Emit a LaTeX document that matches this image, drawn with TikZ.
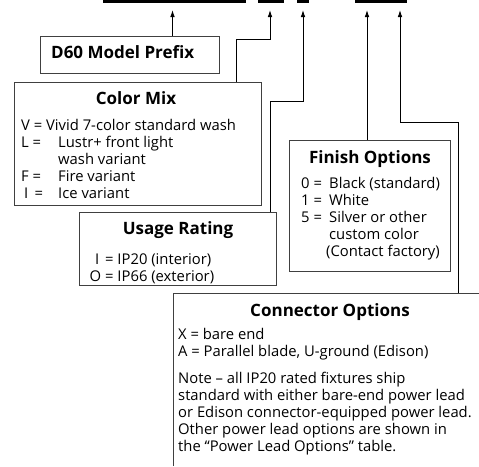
\documentclass[tikz,border=0pt]{standalone}
\usepackage{fontspec}
\setmainfont{Open Sans}
\usetikzlibrary{arrows.meta}
\begin{document}
\begin{tikzpicture}[x=1pt,y=-1pt,
  box/.style={draw=black!75, line width=0.9pt, inner sep=0},
  bar/.style={fill=black, inner sep=0, minimum height=2.6pt},
  conn/.style={draw=black, line width=0.9pt},
  arr/.style={conn, -{Latex[length=7pt,width=4.6pt]}},
  ttl/.style={font=\bfseries\fontsize{17}{20}\selectfont, anchor=base, inner sep=0},
  txt/.style={font=\fontsize{14.8}{17}\selectfont, anchor=base west, inner sep=0},
]
\useasboundingbox (0,0) rectangle (479,466);
% top bars
\node[bar, minimum width=143pt] (bar1) at (174.5,1.3) {};
\node[bar, minimum width=26pt] (bar2) at (271,1.3) {};
\node[bar, minimum width=12pt] (bar3) at (303,1.3) {};
\node[bar, minimum width=52pt] (bar4) at (381,1.3) {};
% arrow tips
\coordinate (t1) at (172.5,10);
\coordinate (t2) at (270,10);
\coordinate (t3) at (303,10);
\coordinate (t4) at (367,10);
\coordinate (t5) at (400,10);
% bends
\coordinate (k2) at (236,39);
\coordinate (k3) at (270.5,101);
\coordinate (k5) at (458,122);
% boxes
\node[box, minimum width=179pt, minimum height=37pt] (prefix) at (129.5,54.5) {};
\node[box, minimum width=247pt, minimum height=123pt] (cm) at (137.5,143.5) {};
\node[box, minimum width=197pt, minimum height=73pt] (us) at (177.5,248.5) {};
\node[box, minimum width=161pt, minimum height=131pt] (fin) at (369.5,205.5) {};
\coordinate (cnTL) at (173,293);
\coordinate (cnBL) at (173,466);
\coordinate (cnTR) at (479,293);
\draw[box] (cnBL) -- (cnTL) -- (cnTR);
% connectors
\draw[arr] (prefix.north -| t1) -- (t1);
\draw[arr] (cm.north -| k2) -- (k2) -| (t2);
\draw[arr] (us.north -| k3) -- (k3) -| (t3);
\draw[arr] (fin.north -| t4) -- (t4);
\draw[arr] (k5 |- cnTL) -- (k5) -| (t5);
% titles
\node[ttl, anchor=base west] (prefixT) at (51,58.5) {D60 Model Prefix};
\node[ttl] (cmT) at (136,104) {Color Mix};
\node[ttl] (usT) at (178,234) {Usage Rating};
\node[ttl] (finT) at (370,163) {Finish Options};
\node[ttl] (cnT) at (330,316) {Connector Options};
% color mix
\node[txt] (cm1) at (21,130) {V = Vivid 7-color standard wash};
\node[txt] (cm2k) at (21,147) {L =};
\node[txt] (cm2) at (58,147) {Lustr+ front light};
\node[txt] (cm3) at (58,164) {wash variant};
\node[txt] (cm4k) at (21,181) {F =};
\node[txt] (cm4) at (58,181) {Fire variant};
\node[txt] (cm5k) at (24,198) {I\, =};
\node[txt] (cm5) at (58,198) {Ice variant};
% usage
\node[txt] (us1k) at (95,264.5) {I};
\node[txt] (us1) at (105,264.5) {= IP20 (interior)};
\node[txt] (us2k) at (89.5,281) {O};
\node[txt] (us2) at (105,281) {= IP66 (exterior)};
% finish
\node[txt] (f1k) at (301,188) {0 =};
\node[txt] (f1) at (329,188) {Black (standard)};
\node[txt] (f2k) at (301,205) {1 =};
\node[txt] (f2) at (329,205) {White};
\node[txt] (f3k) at (301,222) {5 =};
\node[txt] (f3) at (329,222) {Silver or other};
\node[txt] (f4) at (329,239) {custom color};
\node[txt] (f5) at (326,256) {(Contact factory)};
% connector
\node[txt] (c1) at (178,339) {X = bare end};
\node[txt] (c2) at (178,356) {A = Parallel blade, U-ground (Edison)};
\node[txt] (c3) at (178,383) {Note – all IP20 rated fixtures ship};
\node[txt] (c4) at (178,400) {standard with either bare-end power lead};
\node[txt] (c5) at (178,417) {or Edison connector-equipped power lead.};
\node[txt] (c6) at (178,434) {Other power lead options are shown in};
\node[txt] (c7) at (178,451) {the “Power Lead Options” table.};
\end{tikzpicture}
\end{document}
